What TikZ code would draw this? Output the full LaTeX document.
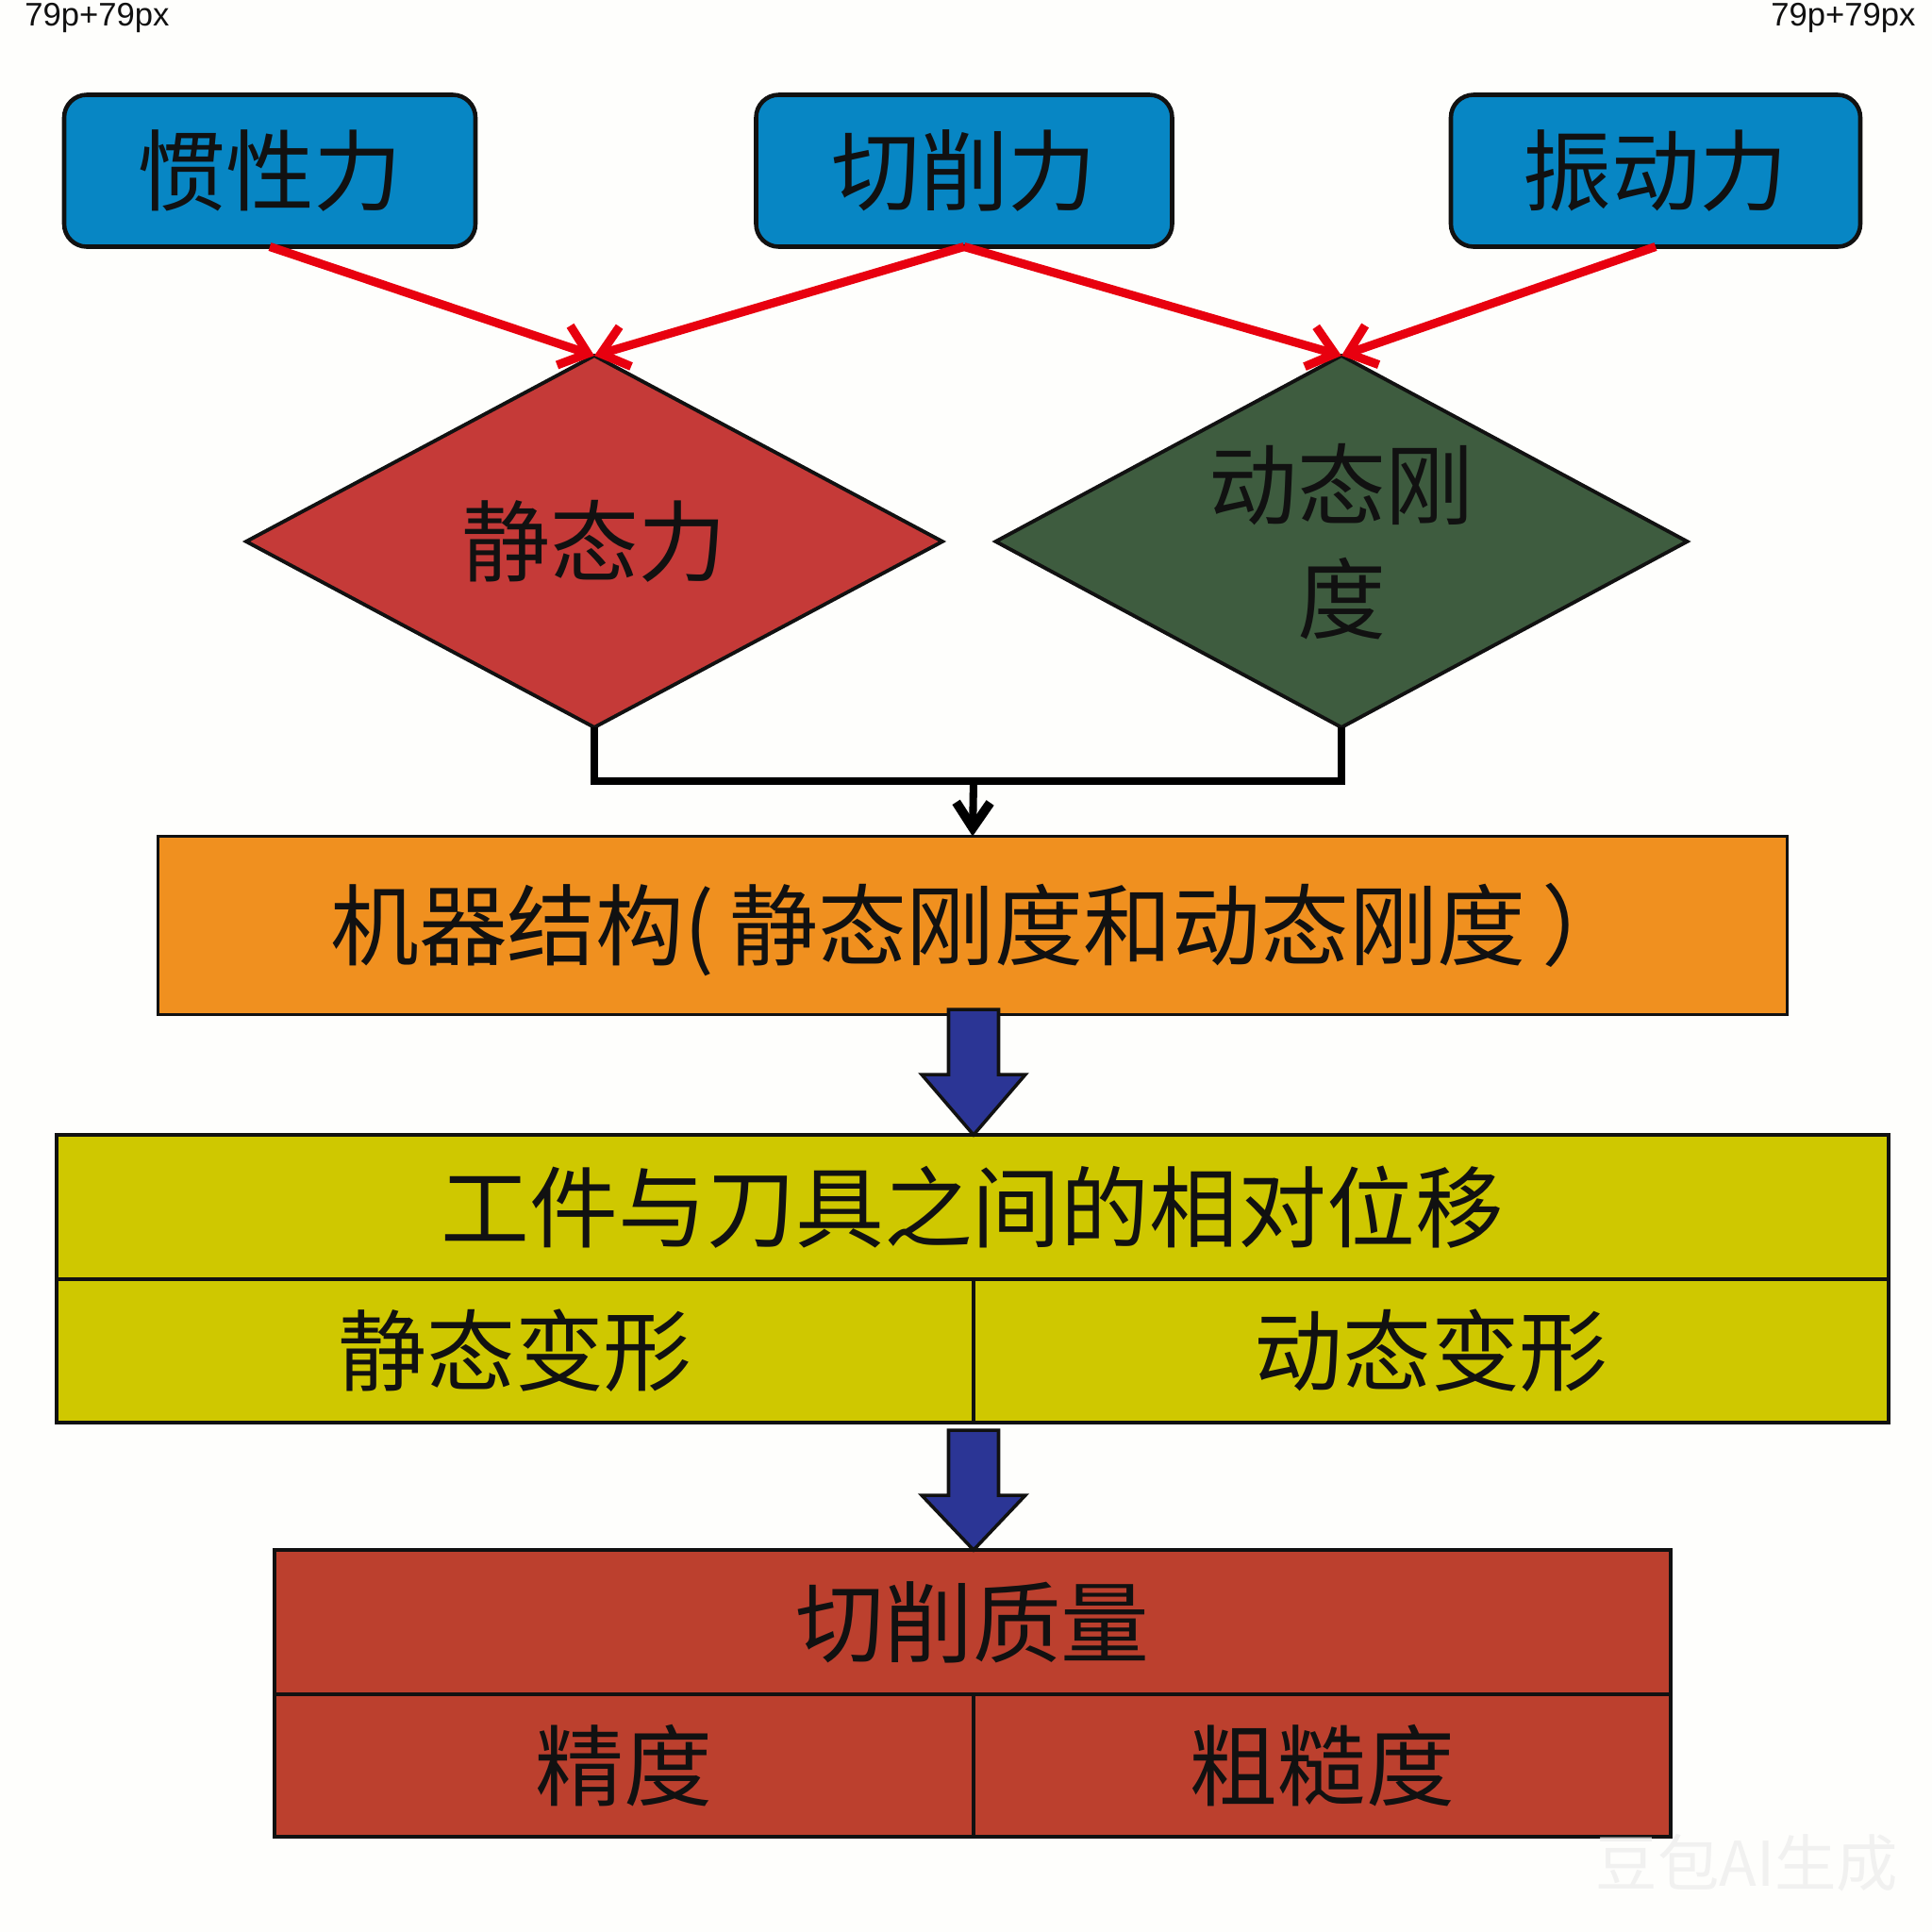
\documentclass[tikz,border=0pt]{standalone}
\usepackage{fontspec}
\newfontfamily\cjk{Noto Sans CJK SC}
\newfontfamily\cornerfont{Liberation Sans}
\usetikzlibrary{arrows.meta,calc,shapes.geometric}
\definecolor{forcefill}{HTML}{0786C4}
\definecolor{staticfill}{HTML}{C53A38}
\definecolor{dynamicfill}{HTML}{3E5C3F}
\definecolor{machinefill}{HTML}{F0901F}
\definecolor{shiftfill}{HTML}{CFC800}
\definecolor{qualityfill}{HTML}{BC402E}
\definecolor{pusharrow}{HTML}{2B3595}
\definecolor{forceline}{HTML}{E8000F}
\definecolor{inkblack}{HTML}{111111}
\definecolor{paper}{HTML}{FEFEFC}
\tikzset{
	label font/.style={font=\cjk\fontsize{26.7}{34.4}\selectfont,text=inkblack},
	cell/.style={label font,draw=inkblack,line width=1.1pt,outer sep=0pt,inner sep=0pt},
	forcebox/.style={cell,line width=1.3pt,rounded corners=0.24cm,fill=forcefill,minimum height=1.61cm},
	decision/.style={cell,diamond,aspect=1.87,minimum height=3.94cm,align=center},
	forceflow/.style={draw=forceline,line width=2.6pt,-{Straight Barb[length=0.27cm,width=0.44cm,line width=2.6pt]}},
	joinline/.style={draw=black,line width=2.3pt},
	pushshape/.style={draw=inkblack,line width=1pt,fill=pusharrow,line join=miter},
}
\begin{document}
\begin{tikzpicture}
	\useasboundingbox (0,0) rectangle (20.48,-20.48);
	\fill[paper] (0,0) rectangle (20.48,-20.48);
	%
	\node[font=\cornerfont\fontsize{9.85}{12}\selectfont,text=inkblack,inner sep=0pt] (sizeleft) at (1.03,-0.19) {79p+79px};
	\node[font=\cornerfont\fontsize{9.85}{12}\selectfont,text=inkblack,inner sep=0pt] (sizeright) at (19.54,-0.19) {79p+79px};
	%
	\node[forcebox,minimum width=4.36cm] (inertia) at (2.86,-1.81) {惯性力};
	\node[forcebox,minimum width=4.41cm] (cutting) at (10.22,-1.81) {切削力};
	\node[forcebox,minimum width=4.34cm] (vibration) at (17.55,-1.81) {振动力};
	%
	\node[decision,fill=staticfill,minimum width=7.38cm] (staticforce) at (6.30,-5.74) {静态力};
	\node[decision,fill=dynamicfill,minimum width=7.33cm] (dynstiff) at (14.22,-5.74) {动态刚\\度};
	%
	\node[cell,fill=machinefill,minimum width=17.27cm,minimum height=1.89cm] (machine) at (10.31,-9.81) {机器结构\smash{(}\hspace{0.16cm}静态刚度和动态刚度\hspace{0.17cm}）\hspace*{-0.17cm}};
	%
	\node[cell,fill=shiftfill,minimum width=19.42cm,minimum height=1.53cm] (shift) at (10.31,-12.795) {工件与刀具之间的相对位移};
	\node[cell,fill=shiftfill,minimum width=9.72cm,minimum height=1.52cm] (staticdef) at (5.46,-14.32) {静态变形};
	\node[cell,fill=shiftfill,minimum width=9.70cm,minimum height=1.52cm] (dynamicdef) at (15.17,-14.32) {动态变形};
	%
	\node[cell,fill=qualityfill,minimum width=14.80cm,minimum height=1.53cm] (quality) at (10.31,-17.195) {切削质量};
	\node[cell,fill=qualityfill,minimum width=7.41cm,minimum height=1.51cm] (accuracy) at (6.615,-18.715) {精度};
	\node[cell,fill=qualityfill,minimum width=7.39cm,minimum height=1.51cm] (roughness) at (14.015,-18.715) {粗糙度};
	%
	\coordinate (join) at (10.32,-8.28);
	\coordinate (pushone) at (10.32,-10.70);
	\coordinate (pushtwo) at (10.32,-15.16);
	%
	\draw[forceflow] (inertia.south) -- (staticforce.north);
	\draw[forceflow] (cutting.south) -- (staticforce.north);
	\draw[forceflow] (cutting.south) -- (dynstiff.north);
	\draw[forceflow] (vibration.south) -- (dynstiff.north);
	%
	\draw[joinline] (staticforce.south) |- (join) -| (dynstiff.south);
	\draw[joinline,-{Straight Barb[length=0.27cm,width=0.36cm,line width=2.8pt]}] (join) -- (machine.north);
	%
	\foreach \from/\tip in {pushone/shift,pushtwo/quality} {
		\draw[pushshape] ($(\from)+(-0.265,0)$) -- ($(\from)+(0.265,0)$) -- ($(\from)+(0.265,-0.69)$)
			-- ($(\from)+(0.55,-0.69)$) -- (\from |- \tip.north) -- ($(\from)+(-0.55,-0.69)$)
			-- ($(\from)+(-0.265,-0.69)$) -- cycle;
	}
	%
	\node[font=\cjk\fontsize{18.6}{22}\selectfont,text=gray!14,text opacity=0.75,inner sep=0pt] (mark) at (18.52,-19.75) {豆包AI生成};
\end{tikzpicture}
\end{document}
